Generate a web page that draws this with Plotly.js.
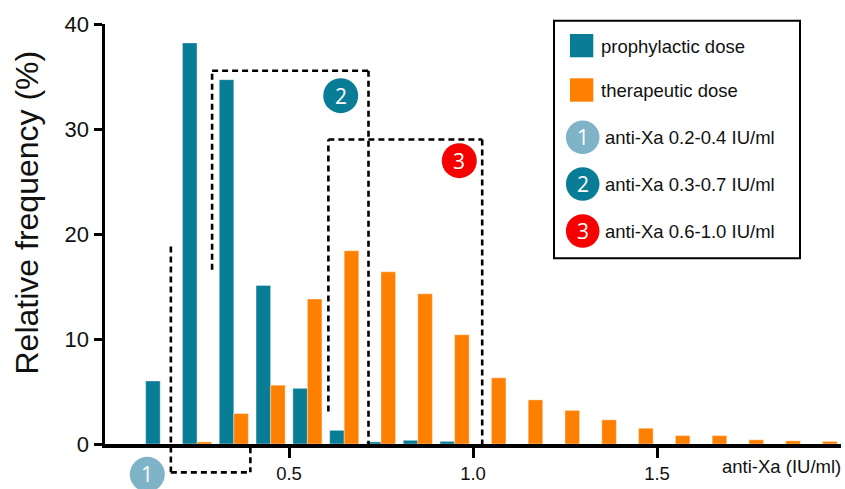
<!DOCTYPE html>
<html>
<head>
<meta charset="utf-8">
<script src="https://cdn.plot.ly/plotly-3.0.1.min.js"></script>
<style>html,body{margin:0;padding:0;background:#fff;}#chart{width:845px;height:489px;}</style>
</head>
<body>
<div id="chart"></div>
<script>
// ---- data ----
const binCenters = [0.15,0.25,0.35,0.45,0.55,0.65,0.75,0.85,0.95,1.05,1.15,1.25,1.35,1.45,1.55,1.65,1.75,1.85,1.95];
const prophylactic = [6.0,38.2,34.7,15.1,5.3,1.3,0.2,0.35,0.25,0,0,0,0,0,0,0,0,0,0];
const therapeutic = [0,0.2,2.9,5.6,13.8,18.4,16.4,14.3,10.4,6.3,4.2,3.2,2.3,1.5,0.8,0.8,0.4,0.3,0.25];
const seriesNames = ["prophylactic dose","therapeutic dose"];
const xTicks = [0.5,1.0,1.5];
const yTicks = [0,10,20,30,40];
const rangeLabels = ["anti-Xa 0.2-0.4 IU/ml","anti-Xa 0.3-0.7 IU/ml","anti-Xa 0.6-1.0 IU/ml"];
const xTitle = "anti-Xa (IU/ml)";
const yTitle = "Relative frequency (%)";

// ---- styles ----
const TEAL = "#0a7d96", ORANGE = "#ff8000", LIGHTBLUE = "#7fb3c8", RED = "#f70000";
const FONT = "Liberation Sans, Arial, sans-serif";
const L = 105, T = 24, W = 736, H = 420, FW = 845, FH = 489;
const Y0 = 0, Y1 = 40;
const fx = p => (p - L) / W;          // pixel -> paper x
const fy = p => (T + H - p) / H;      // pixel -> paper y
const yp = v => (v - Y0) / (Y1 - Y0); // data y -> paper y

const traces = [
  {type:"bar", x:binCenters, y:prophylactic, name:seriesNames[0],
   marker:{color:TEAL, line:{color:"rgba(255,255,255,0.45)", width:0.8}}, hoverinfo:"skip"},
  {type:"bar", x:binCenters, y:therapeutic, name:seriesNames[1],
   marker:{color:ORANGE, line:{color:"rgba(255,255,255,0.45)", width:0.8}}, hoverinfo:"skip"}
];

const dashLine = {color:"#000", width:2.6, dash:"6px,4px"};
function vline(x, ya, yb){ return {type:"line", xref:"x", yref:"paper", x0:x, x1:x, y0:yp(ya), y1:yp(yb), line:dashLine}; }
function hline(xa, xb, y){ return {type:"line", xref:"x", yref:"paper", x0:xa, x1:xb, y0:yp(y), y1:yp(y), line:dashLine}; }

// range boxes (x in data units, y in data units)
const box1 = {x0:0.179, x1:0.395, top:18.8, bottom:-2.7};
const box2 = {x0:0.291, x1:0.716, top:35.55, leftBottom:16.6};
const box3 = {x0:0.607, x1:1.025, top:29.0, leftBottom:3.1};

function circle(cx, cy, r, color){
  return {type:"circle", xref:"paper", yref:"paper", x0:fx(cx-r), x1:fx(cx+r), y0:fy(cy+r), y1:fy(cy-r),
          fillcolor:color, line:{width:0}, layer:"above"};
}
function circleText(cx, cy, t, size){
  return {xref:"paper", yref:"paper", x:fx(cx), y:fy(cy), text:t, showarrow:false,
          xanchor:"center", yanchor:"middle", font:{family:"Open Sans, "+FONT, size:size||21, color:"#fff"}};
}
function legText(x, y, t){
  return {xref:"paper", yref:"paper", x:fx(x), y:fy(y), text:t, showarrow:false,
          xanchor:"left", yanchor:"middle", font:{family:FONT, size:18.5, color:"#111"}};
}

const shapes = [
  // box 1
  vline(box1.x0, box1.top, box1.bottom),
  hline(box1.x0, box1.x1, box1.bottom),
  vline(box1.x1, -0.3, box1.bottom),
  // box 2
  vline(box2.x0, box2.leftBottom, box2.top),
  hline(box2.x0, box2.x1, box2.top),
  vline(box2.x1, box2.top, 0),
  // box 3
  vline(box3.x0, box3.leftBottom, box3.top),
  hline(box3.x0, box3.x1, box3.top),
  vline(box3.x1, box3.top, 0),
  // circles on plot
  circle(147.3, 474.3, 17.5, LIGHTBLUE),
  circle(340.7, 95.7, 17.5, TEAL),
  circle(459.3, 160.7, 17.5, RED),
  // legend box
  {type:"rect", xref:"paper", yref:"paper", x0:fx(554), x1:fx(800), y0:fy(258.3), y1:fy(20.7),
   line:{color:"#000", width:2}, fillcolor:"rgba(255,255,255,0)"},
  {type:"rect", xref:"paper", yref:"paper", x0:fx(570), x1:fx(593.3), y0:fy(57.3), y1:fy(34),
   line:{width:0}, fillcolor:TEAL},
  {type:"rect", xref:"paper", yref:"paper", x0:fx(570), x1:fx(593.3), y0:fy(101.7), y1:fy(78.3),
   line:{width:0}, fillcolor:ORANGE},
  circle(582.7, 137.3, 16.8, LIGHTBLUE),
  circle(582.7, 184, 16.8, TEAL),
  circle(582.7, 231, 16.8, RED)
];

const annotations = [
  circleText(147.3, 474.3, "1"),
  circleText(340.7, 95.7, "2"),
  circleText(459.3, 160.7, "3"),
  circleText(582.7, 137.3, "1"),
  circleText(582.7, 184, "2"),
  circleText(582.7, 231, "3"),
  legText(599, 46, seriesNames[0]),
  legText(599, 90, seriesNames[1]),
  legText(603, 137.3, rangeLabels[0]),
  legText(603, 184, rangeLabels[1]),
  legText(603, 231, rangeLabels[2]),
  {xref:"paper", yref:"paper", x:fx(843), y:fy(466.5), text:xTitle, showarrow:false,
   xanchor:"right", yanchor:"middle", font:{family:FONT, size:18.5, color:"#111"}},
  {xref:"paper", yref:"paper", x:fx(27), y:fy(212.5), text:yTitle, showarrow:false, textangle:-90,
   xanchor:"center", yanchor:"middle", font:{family:FONT, size:32, color:"#111"}}
];

const layout = {
  width:FW, height:FH,
  margin:{l:L, r:FW-L-W, t:T, b:FH-T-H, pad:0},
  paper_bgcolor:"#fff", plot_bgcolor:"#fff",
  showlegend:false, hovermode:false,
  barmode:"group", bargap:0.21, bargroupgap:0,
  font:{family:FONT, size:18.5, color:"#111"},
  xaxis:{range:[0,2], tickvals:xTicks, tickformat:".1f", showgrid:false, zeroline:false,
         showline:true, linewidth:4, linecolor:"#000", ticks:"outside", ticklen:10, tickwidth:3,
         tickcolor:"#000", tickfont:{family:FONT, size:18.5, color:"#111"}, fixedrange:true},
  yaxis:{range:[Y0,Y1], tickvals:yTicks, showgrid:false, zeroline:false,
         showline:true, linewidth:3.5, linecolor:"#000", ticks:"outside", ticklen:8, tickwidth:3,
         tickcolor:"#000", tickfont:{family:FONT, size:22, color:"#111"}, fixedrange:true},
  shapes:shapes,
  annotations:annotations
};

Plotly.newPlot("chart", traces, layout, {staticPlot:true, displayModeBar:false});
</script>
</body>
</html>
